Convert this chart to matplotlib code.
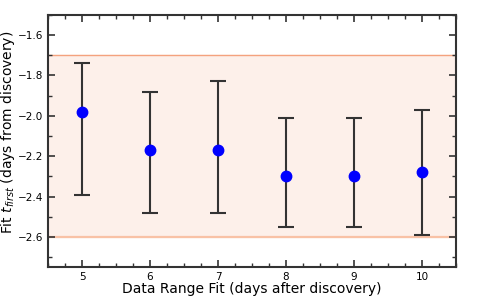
import numpy as np
import matplotlib
matplotlib.use("Agg")
import matplotlib.pyplot as plt
from matplotlib.ticker import MultipleLocator

# fit ranges and fitted first-light times
days = [5, 6, 7, 8, 9, 10]
t_first = [-1.98, -2.17, -2.17, -2.30, -2.30, -2.28]
upper = [-1.74, -1.88, -1.83, -2.01, -2.01, -1.97]
lower = [-2.39, -2.48, -2.48, -2.55, -2.55, -2.59]
band = [-2.6, -1.7]

t_first = np.array(t_first)
yerr = [t_first - np.array(lower), np.array(upper) - t_first]

fig, ax = plt.subplots(figsize=(4.8, 2.97), dpi=100)
fig.subplots_adjust(left=0.1, right=0.95, top=0.95, bottom=0.1)

ax.axhspan(band[0], band[1], color='#fdf0ea', zorder=0)
ax.axhline(band[1], color='#f4a27e', lw=1.0, zorder=1)
ax.axhline(band[0], color='#f9c2a6', lw=1.6, zorder=1)

ax.errorbar(days, t_first, yerr=yerr, fmt='o', color='blue', ms=7.5,
            ecolor='#333333', elinewidth=1.5, capsize=6, capthick=1.5, zorder=3)

ax.set_xlim(4.5, 10.5)
ax.set_ylim(-2.75, -1.5)
ax.xaxis.set_major_locator(MultipleLocator(1))
ax.xaxis.set_minor_locator(MultipleLocator(0.25))
ax.yaxis.set_major_locator(MultipleLocator(0.2))
ax.yaxis.set_minor_locator(MultipleLocator(0.1))
ax.tick_params(which='both', direction='in', top=True, right=True, color='#333333')
ax.tick_params(which='major', length=5, width=1.2, labelsize=7.5, pad=3.5)
ax.tick_params(which='minor', length=3, width=1)
for s in ax.spines.values():
    s.set_linewidth(1.5)
    s.set_color('#333333')

ax.set_xlabel('Data Range Fit (days after discovery)', fontsize=10)
ax.set_ylabel('Fit $t_{first}$ (days from discovery)', fontsize=10)
ax.xaxis.set_label_coords(0.5, -0.058)
ax.yaxis.set_label_coords(-0.076, 0.535)

plt.savefig('out.png', dpi=100)
